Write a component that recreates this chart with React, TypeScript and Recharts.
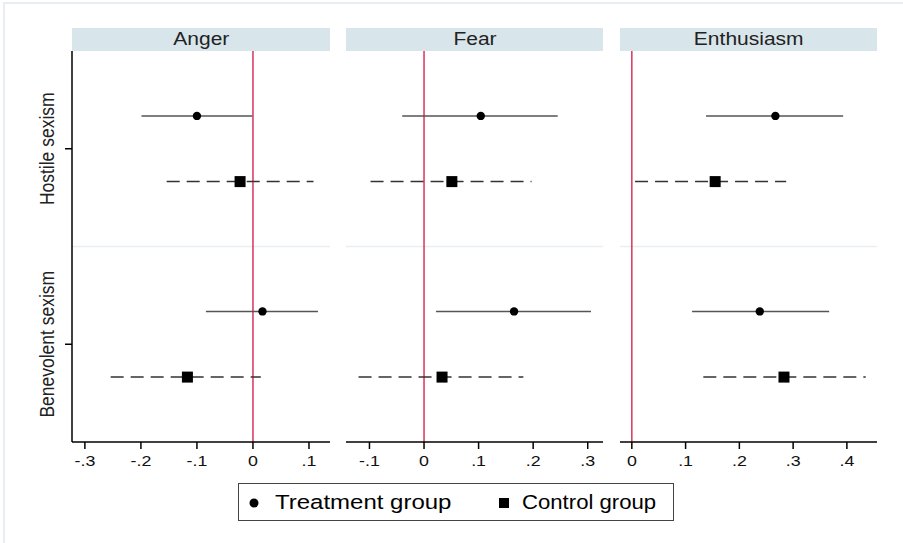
import React from "react";
import {
  ScatterChart,
  Scatter,
  XAxis,
  YAxis,
  ErrorBar,
  ReferenceLine,
} from "recharts";

const emotions = ["Anger", "Fear", "Enthusiasm"];
const scales = ["Hostile sexism", "Benevolent sexism"];

// per emotion: [hostile, benevolent]
const treatEst = [[-0.1, 0.017], [0.104, 0.165], [0.267, 0.238]];
const treatLo = [[-0.199, -0.084], [-0.04, 0.022], [0.138, 0.112]];
const treatHi = [[-0.001, 0.116], [0.245, 0.306], [0.393, 0.367]];
const ctrlEst = [[-0.023, -0.117], [0.051, 0.033], [0.155, 0.283]];
const ctrlLo = [[-0.154, -0.254], [-0.098, -0.12], [0.006, 0.133]];
const ctrlHi = [[0.108, 0.014], [0.197, 0.182], [0.287, 0.435]];

const xTicks = [
  [-0.3, -0.2, -0.1, 0, 0.1],
  [-0.1, 0, 0.1, 0.2, 0.3],
  [0, 0.1, 0.2, 0.3, 0.4],
];
const xDomains = [
  [-0.323, 0.1375],
  [-0.143, 0.328],
  [-0.022, 0.456],
];

const FONT = "'Liberation Sans', Arial, sans-serif";
const OFFSET = 0.168;

const fmt = (v: number) => {
  if (v === 0) return "0";
  const s = Math.abs(v).toFixed(1).replace(/^0/, "");
  return v < 0 ? "-" + s : s;
};

const Dot = (props: any) => (
  <circle cx={props.cx} cy={props.cy} r={4.2} fill="#000" />
);
const Square = (props: any) => (
  <rect x={props.cx - 5.5} y={props.cy - 5.5} width={11} height={11} fill="#000" />
);

// the source picture is a bit stretched sideways, so the text is too
const XTick = (props: any) => {
  const { x, y, payload } = props;
  return (
    <text
      transform={`translate(${x}, ${y + 15}) scale(1.15, 1)`}
      textAnchor="middle"
      fontSize={15.5}
      fontFamily={FONT}
      fill="#111"
    >
      {fmt(payload.value)}
    </text>
  );
};

const YLabel = (props: any) => {
  const { y, payload } = props;
  return (
    <text
      transform={`translate(54, ${y}) rotate(-90) scale(1, 1.12)`}
      textAnchor="middle"
      fontSize={17.5}
      fontFamily={FONT}
      fill="#222"
    >
      {scales[payload.value - 1]}
    </text>
  );
};

const layout = [
  { left: 0, width: 330, yWidth: 72 },
  { left: 346, width: 257, yWidth: 0 },
  { left: 620, width: 257, yWidth: 0 },
];

function Panel({ i }: { i: number }) {
  const treat = scales.map((_, k) => ({
    x: treatEst[i][k],
    y: k + 1 - OFFSET,
    err: [treatEst[i][k] - treatLo[i][k], treatHi[i][k] - treatEst[i][k]],
  }));
  const ctrl = scales.map((_, k) => ({
    x: ctrlEst[i][k],
    y: k + 1 + OFFSET,
    err: [ctrlEst[i][k] - ctrlLo[i][k], ctrlHi[i][k] - ctrlEst[i][k]],
  }));
  const l = layout[i];
  const plotLeft = l.left + l.yWidth;
  return (
    <>
      <div
        style={{
          position: "absolute",
          left: plotLeft,
          top: 28,
          width: l.width - l.yWidth,
          height: 23,
          background: "#d8e5eb",
          fontFamily: FONT,
          fontSize: 17.5,
          color: "#222",
          textAlign: "center",
          lineHeight: "23px",
        }}
      >
        <span style={{ display: "inline-block", transform: "scaleX(1.2)" }}>
          {emotions[i]}
        </span>
      </div>
      <div style={{ position: "absolute", left: l.left, top: 51 }}>
        <ScatterChart
          width={l.width}
          height={431}
          margin={{ top: 0, right: 0, bottom: 0, left: 0 }}
        >
          <XAxis
            type="number"
            dataKey="x"
            domain={xDomains[i]}
            allowDataOverflow
            ticks={xTicks[i]}
            interval={0}
            height={40}
            tickSize={7}
            axisLine={{ stroke: "#000", strokeWidth: 1.5 }}
            tickLine={{ stroke: "#000", strokeWidth: 1.5 }}
            tick={<XTick />}
          />
          <YAxis
            type="number"
            dataKey="y"
            domain={[0.5, 2.5]}
            reversed
            allowDataOverflow
            ticks={[1, 2]}
            hide={l.yWidth === 0}
            width={l.yWidth}
            tickSize={7}
            axisLine={{ stroke: "#000", strokeWidth: 1.5 }}
            tickLine={{ stroke: "#000", strokeWidth: 1.5 }}
            tick={<YLabel />}
          />
          <ReferenceLine y={1.5} stroke="#e9eef2" strokeWidth={1.5} />
          <ReferenceLine x={0} stroke="#d7345e" strokeWidth={1.5} />
          <Scatter data={treat} shape={<Dot />} isAnimationActive={false}>
            <ErrorBar
              dataKey="err"
              direction="x"
              width={0}
              stroke="#555"
              strokeWidth={1.5}
              isAnimationActive={false}
            />
          </Scatter>
          <Scatter data={ctrl} shape={<Square />} isAnimationActive={false}>
            <ErrorBar
              dataKey="err"
              direction="x"
              width={0}
              stroke="#333"
              strokeWidth={1.5}
              strokeDasharray="13 7"
              isAnimationActive={false}
            />
          </Scatter>
        </ScatterChart>
      </div>
    </>
  );
}

export default function App() {
  return (
    <div
      style={{
        position: "absolute",
        left: 0,
        top: 0,
        width: 903,
        height: 543,
        background: "#fff",
        overflow: "hidden",
      }}
    >
      <div
        style={{
          position: "absolute",
          left: 3,
          top: 2,
          width: 910,
          height: 560,
          borderTop: "2px solid #e6eef2",
          borderLeft: "2px solid #e6eef2",
        }}
      />
      {emotions.map((_, i) => (
        <Panel key={i} i={i} />
      ))}
      <div
        style={{
          position: "absolute",
          left: 238,
          top: 483,
          width: 434,
          height: 36,
          border: "1.5px solid #444",
          fontFamily: FONT,
          fontSize: 20.5,
          color: "#000",
        }}
      >
        <svg style={{ position: "absolute", left: 0, top: 0 }} width={434} height={36}>
          <circle cx={15} cy={19} r={4.5} fill="#000" />
          <rect x={260} y={14} width={10} height={10} fill="#000" />
        </svg>
        <span
          style={{
            position: "absolute",
            left: 36,
            top: 6,
            transform: "scaleX(1.17)",
            transformOrigin: "left center",
          }}
        >
          Treatment group
        </span>
        <span
          style={{
            position: "absolute",
            left: 283,
            top: 6,
            transform: "scaleX(1.08)",
            transformOrigin: "left center",
          }}
        >
          Control group
        </span>
      </div>
    </div>
  );
}
